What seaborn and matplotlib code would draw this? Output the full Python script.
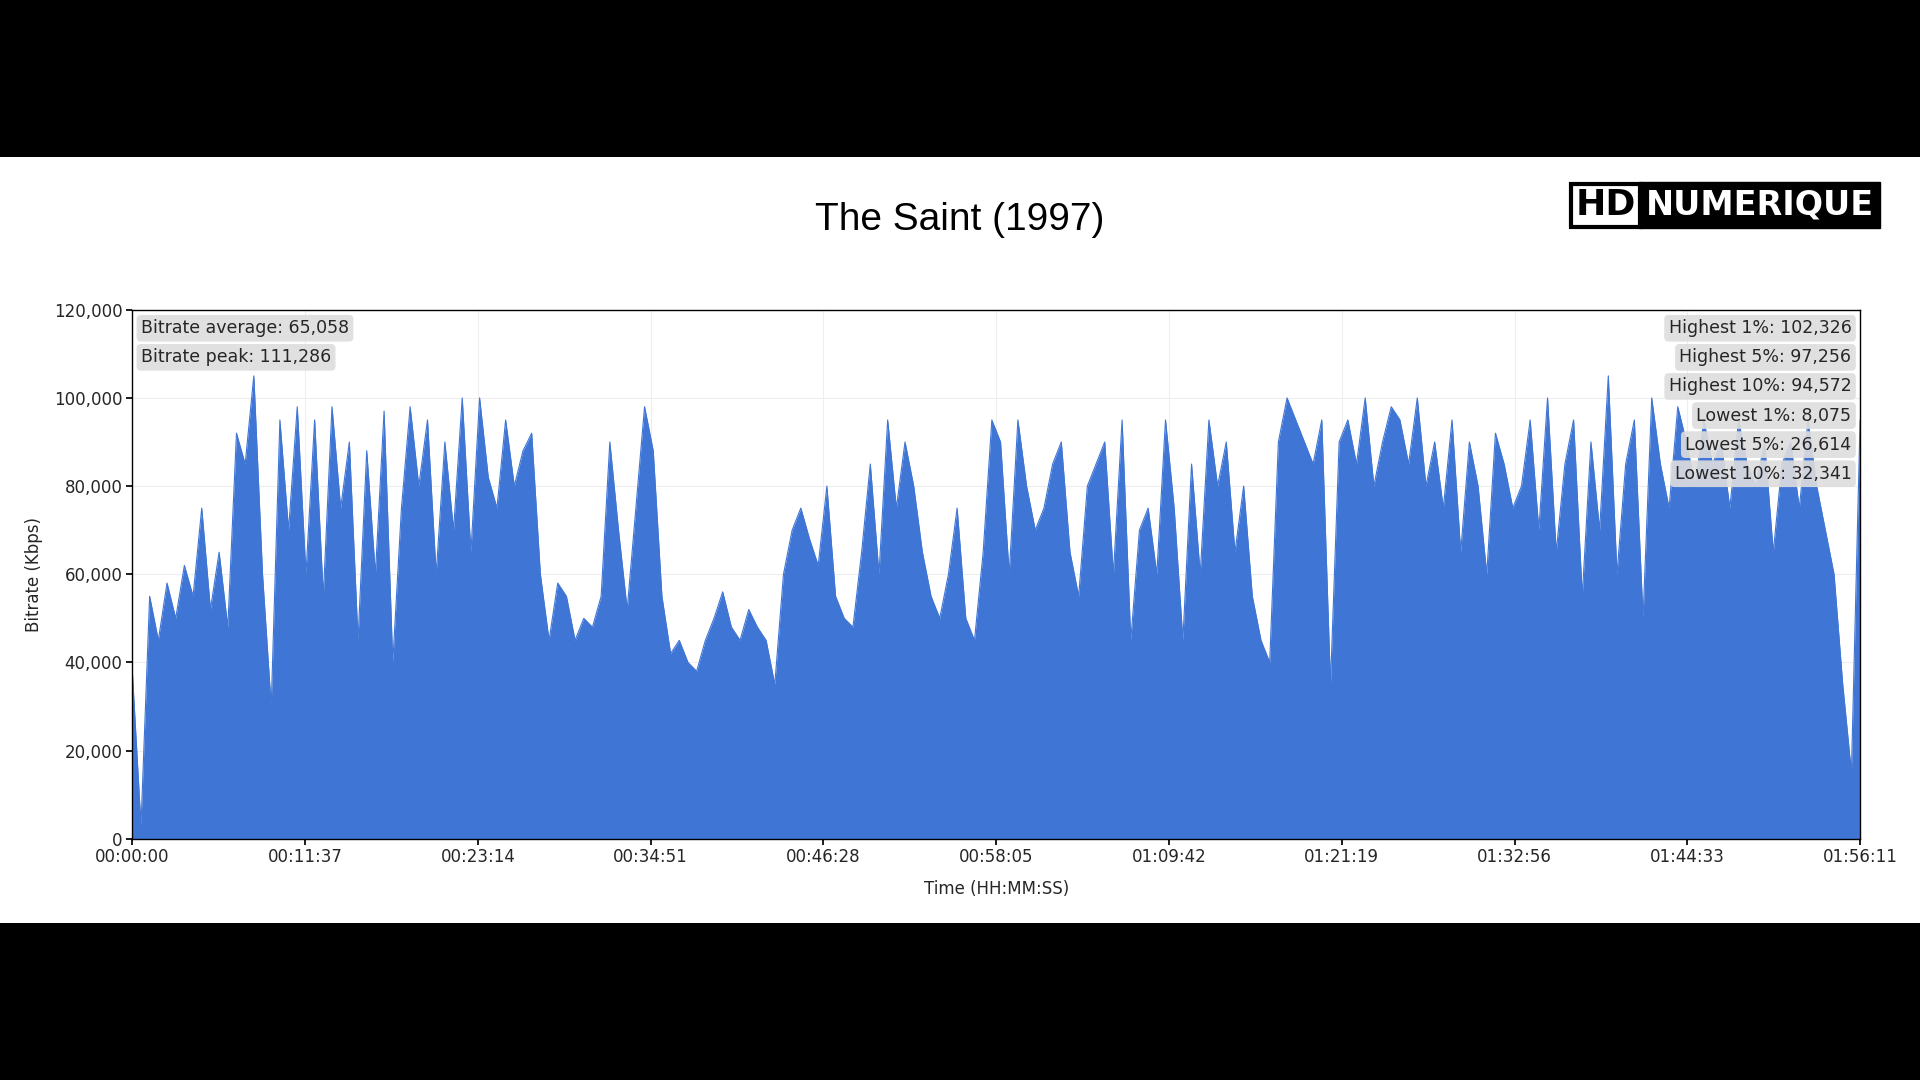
import matplotlib
matplotlib.use("Agg")
import matplotlib.pyplot as plt
import seaborn as sns
import numpy as np
import pandas as pd

# bitrate samples (thousands of Kbps), evenly spaced over the runtime
bitrate_k = [
 38, 3, 55, 45, 58, 50, 62, 55, 75, 52, 65, 48, 92, 85, 105, 60, 30, 95, 70, 98,
 60, 95, 55, 98, 75, 90, 45, 88, 60, 97, 40, 75, 98, 80, 95, 60, 90, 70, 100, 65,
 100, 82, 75, 95, 80, 88, 92, 60, 45, 58, 55, 45, 50, 48, 55, 90, 70, 52, 75, 98,
 88, 55, 42, 45, 40, 38, 45, 50, 56, 48, 45, 52, 48, 45, 35, 60, 70, 75, 68, 62,
 80, 55, 50, 48, 65, 85, 60, 95, 75, 90, 80, 65, 55, 50, 60, 75, 50, 45, 65, 95,
 90, 60, 95, 80, 70, 75, 85, 90, 65, 55, 80, 85, 90, 60, 95, 45, 70, 75, 60, 95,
 75, 45, 85, 60, 95, 80, 90, 65, 80, 55, 45, 40, 90, 100, 95, 90, 85, 95, 35, 90,
 95, 85, 100, 80, 90, 98, 95, 85, 100, 80, 90, 75, 95, 65, 90, 80, 60, 92, 85, 75,
 80, 95, 70, 100, 65, 85, 95, 55, 90, 70, 105, 60, 85, 95, 50, 100, 85, 75, 98, 90,
 80, 95, 85, 90, 75, 95, 85, 80, 90, 65, 85, 90, 75, 95, 80, 70, 60, 35, 15, 95,
]
duration_s = 6971
tick_labels = ["00:00:00", "00:11:37", "00:23:14", "00:34:51", "00:46:28", "00:58:05",
               "01:09:42", "01:21:19", "01:32:56", "01:44:33", "01:56:11"]
left_stats = ["Bitrate average: 65,058", "Bitrate peak: 111,286"]
right_stats = ["Highest 1%: 102,326", "Highest 5%: 97,256", "Highest 10%: 94,572",
               "Lowest 1%: 8,075", "Lowest 5%: 26,614", "Lowest 10%: 32,341"]

sns.set_theme(style="whitegrid")
plt.rcParams['font.family'] = ['DejaVu Sans']

df = pd.DataFrame({"t": np.linspace(0, duration_s, len(bitrate_k)),
                   "b": np.array(bitrate_k) * 1000})

fig = plt.figure(figsize=(19.2, 10.8), dpi=100, facecolor="black")
bg = fig.add_axes([0, 0.145, 1, 0.71], zorder=-5)
bg.set_axis_off()
bg.add_patch(plt.Rectangle((0, 0), 1, 1, transform=bg.transAxes, color="white"))
ax = fig.add_axes([0.0689, 0.2234, 0.8999, 0.4898], zorder=2)
ax.set_facecolor("white")
col = "#3f75d4"
ax.fill_between(df["t"], df["b"], 0, color=col, linewidth=0)
sns.lineplot(data=df, x="t", y="b", ax=ax, color=col, linewidth=0.8)
ax.set_xlim(0, duration_s)
ax.set_ylim(0, 120000)
ax.set_xticks(np.linspace(0, duration_s, len(tick_labels)))
ax.set_xticklabels(tick_labels, fontsize=12)
ax.set_yticks(range(0, 120001, 20000))
ax.set_yticklabels([f"{v:,}" for v in range(0, 120001, 20000)], fontsize=12)
ax.tick_params(axis="both", length=4, color="black", bottom=True, left=True, pad=3)
ax.grid(True, color="#eeeeee", linewidth=0.8)
for s in ax.spines.values():
    s.set_color("black"); s.set_linewidth(1)
ax.set_xlabel("Time (HH:MM:SS)", fontsize=12, labelpad=10)
ax.set_ylabel("Bitrate (Kbps)", fontsize=12, labelpad=8)

bb = dict(boxstyle="round,pad=0.25", facecolor="#dddddd", edgecolor="none", alpha=0.9)
for i, t in enumerate(left_stats):
    ax.text(0.005, 0.965 - i * 0.055, t, transform=ax.transAxes, fontsize=12.5,
            ha="left", va="center", bbox=bb, zorder=5)
for i, t in enumerate(right_stats):
    ax.text(0.995, 0.965 - i * 0.055, t, transform=ax.transAxes, fontsize=12.5,
            ha="right", va="center", bbox=bb, zorder=5)

fig.text(0.5, 0.796, "The Saint (1997)", ha="center", va="center", fontsize=28,
         family="Liberation Sans", color="black")
fig.text(0.852, 0.81, "HD", ha="right", va="center", fontsize=26, fontweight="bold",
         color="black", bbox=dict(boxstyle="square,pad=0.12", facecolor="white", edgecolor="black", linewidth=3))
fig.text(0.857, 0.81, "NUMERIQUE", ha="left", va="center", fontsize=24, fontweight="bold",
         color="white", bbox=dict(boxstyle="square,pad=0.2", facecolor="black", edgecolor="black"))

fig.savefig("out.png", dpi=100, facecolor="black")
